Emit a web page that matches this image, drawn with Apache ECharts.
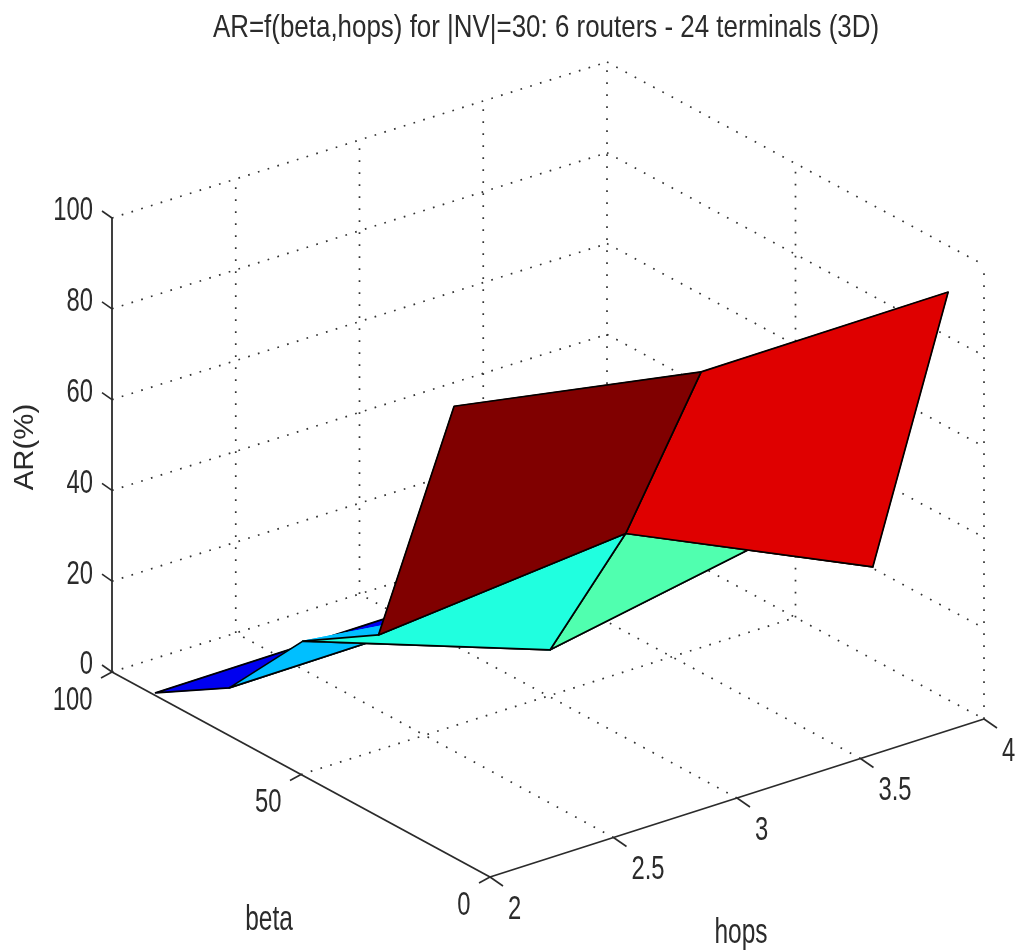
<!DOCTYPE html>
<html><head><meta charset="utf-8">
<style>html,body{margin:0;padding:0;background:#fff}#c{width:1016px;height:951px}</style>
<script src="https://cdn.jsdelivr.net/npm/echarts@6/dist/echarts.min.js"></script>
</head><body><div id="c"></div>
<script>
// Data
const titleText = 'AR=f(beta,hops) for |NV|=30: 6 routers - 24 terminals (3D)';
const hopsValues = [2, 3, 4];
const betaValues = [9.5, 29.5, 49.5, 69, 88.5];
const arAtHops2 = [99.4, 40, 29.6, 10.5, 0.6];
const arAtHops3 = [89.6, 45, 10.4, 11, 1];
const arAtHops4 = [89.8, 20.3, 20.6, 10, 0.5];
const hopsTicks = [2, 2.5, 3, 3.5, 4];
const betaTicks = [0, 50, 100];
const arTicks = [0, 20, 40, 60, 80, 100];

// 3D box placement: floor corners (px) and height of the AR axis
const BOX = {a:[490,877], b:[984,719], c:[112,672], d:[607,516], h:454};
function project(h, beta, ar) {
  const s = (h - 2) / 2, t = beta / 100;
  const x = (1-s)*(1-t)*BOX.a[0] + s*(1-t)*BOX.b[0] + (1-s)*t*BOX.c[0] + s*t*BOX.d[0];
  const y = (1-s)*(1-t)*BOX.a[1] + s*(1-t)*BOX.b[1] + (1-s)*t*BOX.c[1] + s*t*BOX.d[1];
  return [x, y - ar / 100 * BOX.h];
}
const arGrid = [arAtHops2, arAtHops3, arAtHops4];
const arMax = Math.max(...arGrid.flat());
function jet(v) {
  const row = Math.min(64, Math.floor(v * 64) + 1), x = row / 64;
  const c = k => Math.round(255 * Math.max(0, Math.min(1, k)));
  return `rgb(${c(Math.min(4*x-1.5,-4*x+4.5))},${c(Math.min(4*x-0.5,-4*x+3.5))},${c(Math.min(4*x+0.5,-4*x+2.5))})`;
}

// faces, far to near
const faces = [];
for (let j = betaValues.length - 2; j >= 0; j--) {
  for (let i = hopsValues.length - 2; i >= 0; i--) {
    const corner = (a, b) => [hopsValues[a], betaValues[b], arGrid[a][b]];
    faces.push([corner(i,j), corner(i+1,j), corner(i+1,j+1), corner(i,j+1)]);
  }
}

const dotted = [];
arTicks.forEach(z => {
  dotted.push([[2,100,z],[4,100,z]]);
  dotted.push([[4,100,z],[4,0,z]]);
});
hopsTicks.forEach(h => {
  if (h > 2) dotted.push([[h,100,0],[h,100,100]]);
  if (h > 2 && h < 4) dotted.push([[h,0,0],[h,100,0]]);
});
betaTicks.forEach(b => {
  if (b < 100) dotted.push([[4,b,0],[4,b,100]]);
  if (b === 50) dotted.push([[2,b,0],[4,b,0]]);
});
const solid = [
  [[2,100,0],[2,100,100]],
  [[2,100,0],[2,0,0]],
  [[2,0,0],[4,0,0]]
];

const tickLines = [];
arTicks.forEach(z => tickLines.push({p:[2,100,z], d:[-10,-7]}));
hopsTicks.forEach(h => tickLines.push({p:[h,0,0], d:[13,9]}));
betaTicks.forEach(b => tickLines.push({p:[2,b,0], d:[-11,6]}));

const labels = [];
arTicks.forEach(z => labels.push({p:[2,100,z], t:String(z), off:[-19,-7], align:'right'}));
hopsTicks.forEach(h => labels.push({p:[h,0,0], t:String(h), off:[18,32.5], align:'left'}));
betaTicks.forEach(b => labels.push({p:[2,b,0], t:String(b), off:[-19.5,28.5], align:'right'}));
const axisNames = [
  {at:[269,920], t:'beta', rot:0, size:35, sx:0.7},
  {at:[741,933], t:'hops', rot:0, size:35, sx:0.7},
  {at:[25,447], t:'AR(%)', rot:Math.PI/2, size:28, sx:1.05}
];

const FONT = '"Liberation Sans", Arial, sans-serif';
const INK = '#2b2b2b';
function pts(api, arr) { return arr.map(p => api.coord(project(p[0], p[1], p[2]))); }

const option = {
  animation: false,
  backgroundColor: '#fff',
  graphic: [{type:'text', x:546, y:28, scaleX:0.81, silent:true,
    style:{text:titleText, fontFamily:FONT, fontSize:32, fill:INK, textAlign:'center', textVerticalAlign:'middle'}}],
  grid: {left:0, right:0, top:0, bottom:0},
  xAxis: {type:'value', min:0, max:1016, show:false},
  yAxis: {type:'value', min:0, max:951, inverse:true, show:false},
  series: [
    {type:'custom', coordinateSystem:'cartesian2d', silent:true, clip:false, z:1,
     data: dotted.map((s,i)=>[i]),
     renderItem:(p,api)=>{ const a=pts(api,dotted[api.value(0)]);
       const dx=a[1][0]-a[0][0], dy=a[1][1]-a[0][1], len=Math.hypot(dx,dy);
       const period=Math.hypot(10*dx/len,12*dy/len);
       return {type:'line', shape:{x1:a[0][0],y1:a[0][1],x2:a[1][0],y2:a[1][1]},
         style:{stroke:'#333',lineWidth:1.7,lineDash:[1.7,period-1.7],fill:null}}; }},
    {type:'custom', coordinateSystem:'cartesian2d', silent:true, clip:false, z:2,
     data: solid.map((s,i)=>[i]),
     renderItem:(p,api)=>{ const a=pts(api,solid[api.value(0)]);
       return {type:'line', shape:{x1:a[0][0],y1:a[0][1],x2:a[1][0],y2:a[1][1]},
         style:{stroke:INK,lineWidth:1.8,fill:null}}; }},
    {type:'custom', coordinateSystem:'cartesian2d', silent:true, clip:false, z:2,
     data: tickLines.map((s,i)=>[i]),
     renderItem:(p,api)=>{ const t=tickLines[api.value(0)]; const a=pts(api,[t.p])[0];
       return {type:'line', shape:{x1:a[0],y1:a[1],x2:a[0]+t.d[0],y2:a[1]+t.d[1]},
         style:{stroke:INK,lineWidth:1.6,fill:null}}; }},
    {type:'custom', coordinateSystem:'cartesian2d', silent:true, clip:false, z:3,
     data: faces.map((f,i)=>[i]),
     renderItem:(p,api)=>{ const f=faces[api.value(0)]; const q=pts(api,f);
       const fill=jet(f[0][2]/arMax);
       const tri=arr=>({type:'polygon',shape:{points:arr},style:{fill:fill,stroke:fill,lineWidth:1}});
       return {type:'group',children:[
         tri([q[0],q[1],q[2]]), tri([q[0],q[2],q[3]]),
         {type:'polygon',shape:{points:q},style:{fill:fill,stroke:'#000',lineWidth:1.7,lineJoin:'round'}}
       ]}; }},
    {type:'custom', coordinateSystem:'cartesian2d', silent:true, clip:false, z:4,
     data: labels.map((s,i)=>[i]),
     renderItem:(p,api)=>{ const l=labels[api.value(0)]; const a=pts(api,[l.p])[0];
       return {type:'text', x:a[0]+l.off[0], y:a[1]+l.off[1], scaleX:0.7,
         style:{text:l.t,fontFamily:FONT,fontSize:34,fill:INK,textAlign:l.align,textVerticalAlign:'middle'}}; }},
    {type:'custom', coordinateSystem:'cartesian2d', silent:true, clip:false, z:4,
     data: axisNames.map((s,i)=>[i]),
     renderItem:(p,api)=>{ const l=axisNames[api.value(0)]; const a=api.coord(l.at);
       return {type:'text', x:a[0], y:a[1], rotation:l.rot, scaleX:l.sx,
         style:{text:l.t,fontFamily:FONT,fontSize:l.size,fill:INK,textAlign:'center',textVerticalAlign:'middle'}}; }}
  ]
};
echarts.init(document.getElementById('c'),null,{renderer:'canvas'}).setOption(option);
</script></body></html>
